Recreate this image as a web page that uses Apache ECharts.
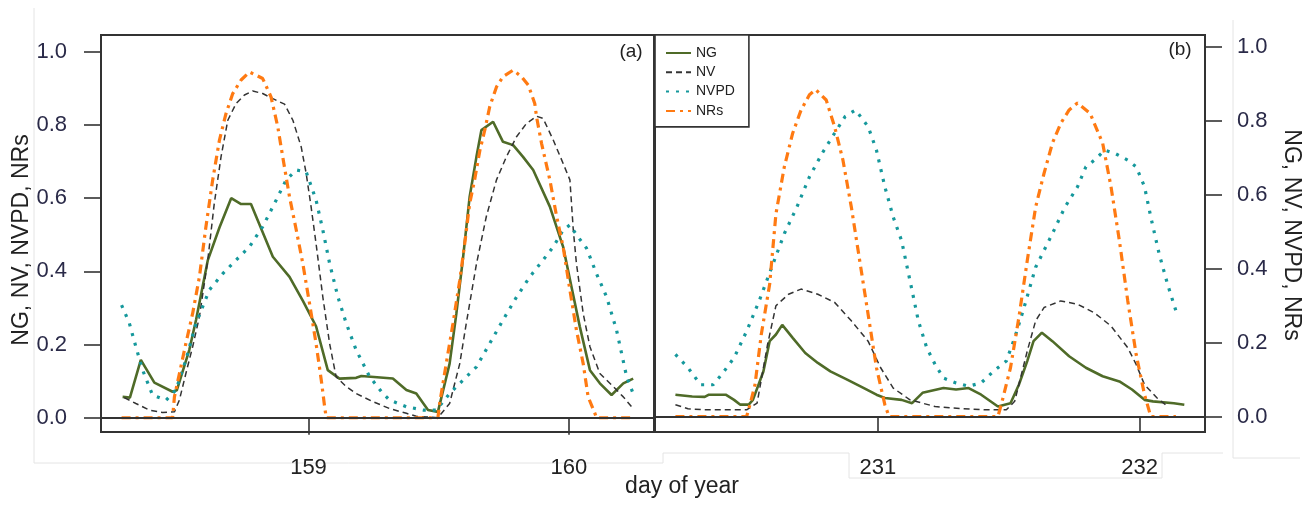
<!DOCTYPE html>
<html>
<head>
<meta charset="utf-8">
<script src="https://cdn.jsdelivr.net/npm/echarts@6/dist/echarts.min.js"></script>
<style>html,body{margin:0;padding:0;background:#fff}#c{width:1310px;height:506px}</style>
</head>
<body>
<div id="c"></div>
<script>
// ---------- data (day of year, normalised value) ----------
const SERIES_NAMES = ['NG', 'NV', 'NVPD', 'NRs'];
const X_TICKS_A = [159, 160];
const X_TICKS_B = [231, 232];
const Y_TICKS = [0, 0.2, 0.4, 0.6, 0.8, 1.0];

const NG_A = [[158.286,0.057],[158.314,0.055],[158.356,0.158],[158.408,0.096],[158.478,0.071],[158.494,0.075],[158.542,0.185],[158.568,0.267],[158.613,0.43],[158.658,0.52],[158.703,0.60],[158.741,0.584],[158.779,0.584],[158.863,0.44],[158.927,0.385],[158.978,0.32],[159.029,0.25],[159.074,0.13],[159.119,0.107],[159.183,0.109],[159.203,0.114],[159.324,0.107],[159.376,0.076],[159.414,0.066],[159.459,0.021],[159.497,0.016],[159.542,0.148],[159.568,0.285],[159.594,0.44],[159.619,0.604],[159.645,0.713],[159.664,0.786],[159.709,0.809],[159.747,0.754],[159.786,0.745],[159.824,0.713],[159.863,0.677],[159.927,0.577],[159.978,0.467],[160.010,0.358],[160.042,0.249],[160.081,0.13],[160.119,0.094],[160.164,0.062],[160.209,0.094],[160.247,0.107]];
const NV_A = [[158.292,0.055],[158.337,0.039],[158.388,0.021],[158.440,0.014],[158.485,0.016],[158.504,0.048],[158.529,0.121],[158.555,0.194],[158.581,0.276],[158.613,0.43],[158.638,0.585],[158.664,0.713],[158.690,0.813],[158.722,0.859],[158.754,0.882],[158.786,0.893],[158.824,0.886],[158.863,0.872],[158.908,0.857],[158.940,0.813],[158.972,0.74],[158.991,0.668],[159.010,0.576],[159.029,0.476],[159.055,0.33],[159.081,0.203],[159.106,0.112],[159.145,0.085],[159.183,0.066],[159.247,0.044],[159.312,0.025],[159.376,0.012],[159.414,0.004],[159.497,0.0],[159.542,0.039],[159.581,0.148],[159.606,0.258],[159.645,0.42],[159.683,0.55],[159.722,0.65],[159.760,0.713],[159.799,0.768],[159.837,0.804],[159.876,0.824],[159.901,0.818],[159.940,0.759],[159.978,0.695],[160.004,0.65],[160.017,0.513],[160.029,0.422],[160.055,0.285],[160.081,0.194],[160.119,0.121],[160.171,0.085],[160.209,0.057],[160.247,0.025]];
const NVPD_A = [[158.282,0.308],[158.312,0.258],[158.337,0.194],[158.363,0.13],[158.401,0.062],[158.453,0.048],[158.491,0.076],[158.529,0.158],[158.568,0.258],[158.619,0.349],[158.671,0.394],[158.722,0.431],[158.773,0.467],[158.824,0.522],[158.876,0.595],[158.914,0.65],[158.953,0.677],[158.991,0.672],[159.029,0.595],[159.055,0.513],[159.081,0.422],[159.113,0.33],[159.145,0.258],[159.183,0.185],[159.235,0.112],[159.286,0.066],[159.312,0.048],[159.376,0.03],[159.440,0.021],[159.491,0.021],[159.542,0.066],[159.594,0.103],[159.645,0.139],[159.696,0.203],[159.747,0.267],[159.799,0.33],[159.850,0.385],[159.901,0.431],[159.940,0.467],[159.978,0.513],[160.004,0.527],[160.029,0.5],[160.068,0.463],[160.106,0.394],[160.145,0.33],[160.183,0.24],[160.222,0.112],[160.247,0.066]];
const NRS_A = [[158.282,0],[158.478,0],[158.485,0.057],[158.504,0.12],[158.529,0.203],[158.555,0.285],[158.581,0.385],[158.606,0.522],[158.632,0.65],[158.658,0.759],[158.683,0.831],[158.709,0.886],[158.741,0.923],[158.773,0.945],[158.799,0.936],[158.824,0.927],[158.856,0.877],[158.882,0.795],[158.901,0.713],[158.927,0.604],[158.953,0.513],[158.978,0.422],[159.004,0.312],[159.029,0.203],[159.049,0.103],[159.062,0.03],[159.068,0],[159.497,0],[159.504,0.04],[159.529,0.148],[159.555,0.258],[159.581,0.376],[159.600,0.476],[159.619,0.585],[159.638,0.65],[159.658,0.73],[159.677,0.786],[159.696,0.85],[159.722,0.904],[159.747,0.932],[159.786,0.95],[159.818,0.932],[159.844,0.909],[159.869,0.859],[159.876,0.822],[159.895,0.75],[159.927,0.65],[159.953,0.55],[159.978,0.467],[160.004,0.349],[160.029,0.24],[160.055,0.148],[160.074,0.057],[160.100,0.012],[160.106,0],[160.247,0]];

const NG_B = [[230.227,0.059],[230.291,0.054],[230.339,0.053],[230.355,0.059],[230.419,0.059],[230.451,0.045],[230.475,0.032],[230.507,0.032],[230.523,0.045],[230.563,0.122],[230.587,0.204],[230.611,0.222],[230.635,0.248],[230.675,0.213],[230.723,0.172],[230.771,0.145],[230.819,0.122],[230.883,0.1],[230.947,0.077],[230.995,0.059],[231.027,0.05],[231.091,0.045],[231.131,0.036],[231.171,0.064],[231.251,0.077],[231.299,0.073],[231.347,0.077],[231.395,0.059],[231.459,0.027],[231.507,0.036],[231.539,0.086],[231.571,0.15],[231.595,0.204],[231.627,0.227],[231.667,0.204],[231.731,0.163],[231.795,0.132],[231.859,0.109],[231.923,0.095],[231.971,0.073],[232.019,0.045],[232.051,0.041],[232.131,0.036],[232.171,0.032]];
const NV_B = [[230.227,0.032],[230.275,0.021],[230.339,0.018],[230.499,0.018],[230.539,0.036],[230.579,0.195],[230.611,0.3],[230.659,0.331],[230.707,0.345],[230.771,0.331],[230.835,0.309],[230.899,0.259],[230.963,0.204],[231.011,0.132],[231.059,0.077],[231.123,0.045],[231.219,0.027],[231.283,0.023],[231.411,0.018],[231.491,0.018],[231.523,0.041],[231.571,0.177],[231.603,0.259],[231.635,0.295],[231.699,0.313],[231.763,0.304],[231.827,0.281],[231.891,0.245],[231.955,0.186],[231.987,0.141],[232.019,0.086],[232.067,0.05],[232.099,0.032]];
const NVPD_B = [[230.227,0.168],[230.275,0.132],[230.323,0.086],[230.371,0.086],[230.403,0.113],[230.451,0.159],[230.499,0.231],[230.547,0.313],[230.595,0.404],[230.643,0.495],[230.691,0.567],[230.739,0.649],[230.787,0.712],[230.835,0.767],[230.875,0.812],[230.915,0.83],[230.963,0.785],[230.995,0.721],[231.027,0.622],[231.059,0.54],[231.091,0.476],[231.123,0.368],[231.155,0.259],[231.187,0.186],[231.219,0.141],[231.251,0.104],[231.299,0.091],[231.347,0.082],[231.395,0.091],[231.443,0.123],[231.491,0.15],[231.523,0.213],[231.555,0.286],[231.603,0.404],[231.667,0.495],[231.715,0.567],[231.763,0.622],[231.795,0.676],[231.827,0.694],[231.867,0.721],[231.907,0.712],[231.955,0.694],[231.987,0.676],[232.019,0.622],[232.043,0.54],[232.075,0.44],[232.107,0.358],[232.139,0.286]];
const NRS_B = [[230.227,0],[230.499,0],[230.515,0.041],[230.531,0.086],[230.555,0.222],[230.587,0.358],[230.611,0.549],[230.643,0.676],[230.675,0.767],[230.707,0.83],[230.739,0.871],[230.763,0.885],[230.803,0.857],[230.835,0.785],[230.867,0.694],[230.899,0.567],[230.931,0.422],[230.963,0.277],[230.995,0.132],[231.027,0.032],[231.043,0],[231.459,0],[231.475,0.041],[231.507,0.132],[231.539,0.268],[231.571,0.422],[231.603,0.567],[231.635,0.658],[231.667,0.74],[231.699,0.794],[231.731,0.83],[231.763,0.849],[231.811,0.821],[231.859,0.74],[231.891,0.622],[231.923,0.476],[231.955,0.313],[231.987,0.168],[232.019,0.059],[232.043,0],[232.139,0]];

// ---------- styling ----------
const FONT = "'Liberation Sans Narrow','Arial Narrow','Liberation Sans',Arial,sans-serif";
const TICK_COLOR = '#2a2a48';
const FRAME = '#333333';
const STYLES = {
  NG:   { color: '#4f6b28', width: 2.6, type: 'solid' },
  NV:   { color: '#333333', width: 1.5, type: [6, 4] },
  NVPD: { color: '#15989c', width: 3.2, type: [3, 7] },
  NRs:  { color: '#ff7a12', width: 3.2, type: [9, 5, 3, 5] }
};

function yAxisDef(grid, pos, min, max, margin) {
  return {
    gridIndex: grid, type: 'value', position: pos, min: min, max: max,
    axisLine: { show: false }, splitLine: { show: false },
    axisTick: { show: true, length: 17, customValues: Y_TICKS, lineStyle: { color: FRAME, width: 1.6 } },
    axisLabel: { customValues: Y_TICKS, margin: margin, fontSize: 22, color: TICK_COLOR, fontFamily: FONT,
                 formatter: v => v.toFixed(1) }
  };
}
function xAxisDef(grid, min, max, ticks, tickLen) {
  return {
    gridIndex: grid, type: 'value', min: min, max: max,
    axisLine: { show: false }, splitLine: { show: false },
    axisTick: { show: true, length: tickLen, customValues: ticks, lineStyle: { color: FRAME, width: 1.6 } },
    axisLabel: { customValues: ticks, margin: 25, fontSize: 22, color: '#222', fontFamily: FONT,
                 formatter: v => String(Math.round(v)) }
  };
}

function mk(name, data, idx, withZero) {
  const s = STYLES[name];
  const o = {
    name: name, type: 'line', data: data, xAxisIndex: idx, yAxisIndex: idx,
    showSymbol: false, symbol: 'none', smooth: false, animation: false,
    lineStyle: { color: s.color, width: s.width, type: s.type },
    itemStyle: { color: s.color, opacity: 0 }, z: 3
  };
  if (withZero) {
    o.markLine = { silent: true, symbol: ['none', 'none'], label: { show: false },
      lineStyle: { color: FRAME, width: 2, type: 'solid', opacity: 1 }, data: [{ yAxis: 0 }], animation: false };
  }
  return o;
}

const faint = { stroke: '#e4e4e4', lineWidth: 1 };
const option = {
  backgroundColor: '#ffffff',
  animation: false,
  grid: [
    { left: 101, top: 35, width: 553, height: 397, show: true, borderColor: FRAME, borderWidth: 2, backgroundColor: 'transparent' },
    { left: 655, top: 35, width: 550, height: 397, show: true, borderColor: FRAME, borderWidth: 2, backgroundColor: 'transparent' }
  ],
  xAxis: [ xAxisDef(0, 158.203, 160.327, X_TICKS_A, 17), xAxisDef(1, 230.149, 232.25, X_TICKS_B, 15) ],
  yAxis: [ yAxisDef(0, 'left', -0.039, 1.046, 34), yAxisDef(1, 'right', -0.042, 1.033, 32) ],
  legend: {
    left: 655, top: 35, orient: 'vertical', backgroundColor: '#fff',
    borderColor: FRAME, borderWidth: 1.6, borderRadius: 0,
    padding: [11, 14, 9, 10], itemWidth: 25, itemHeight: 14, itemGap: 5.3,
    itemStyle: { opacity: 0 },
    textStyle: { fontSize: 14, color: '#222', fontFamily: FONT },
    data: SERIES_NAMES
  },
  series: [
    mk('NG', NG_A, 0, true), mk('NV', NV_A, 0), mk('NVPD', NVPD_A, 0), mk('NRs', NRS_A, 0),
    mk('NG', NG_B, 1, true), mk('NV', NV_B, 1), mk('NVPD', NVPD_B, 1), mk('NRs', NRS_B, 1)
  ],
  graphic: [
    { type: 'polyline', silent: true, z: -1, shape: { points: [[34, 8], [34, 463], [663, 463], [663, 453], [849, 453], [849, 478], [1162, 478], [1162, 453], [1223, 453]] }, style: faint },
    { type: 'polyline', silent: true, z: -1, shape: { points: [[1233, 20], [1233, 458], [1300, 458]] }, style: faint },
    { type: 'text', x: 631, y: 52, style: { text: '(a)', fontSize: 19, fill: '#222', fontFamily: FONT, align: 'center', verticalAlign: 'middle' } },
    { type: 'text', x: 1180, y: 50, style: { text: '(b)', fontSize: 19, fill: '#222', fontFamily: FONT, align: 'center', verticalAlign: 'middle' } },
    { type: 'text', x: 22, y: 240, rotation: Math.PI / 2, style: { text: 'NG, NV, NVPD, NRs', fontSize: 23, fill: '#222', fontFamily: FONT, align: 'center', verticalAlign: 'middle' } },
    { type: 'text', x: 1291, y: 235, rotation: -Math.PI / 2, style: { text: 'NG, NV, NVPD, NRs', fontSize: 23, fill: '#222', fontFamily: FONT, align: 'center', verticalAlign: 'middle' } },
    { type: 'text', x: 682, y: 487, style: { text: 'day of year', fontSize: 23, fill: '#222', fontFamily: FONT, align: 'center', verticalAlign: 'middle' } }
  ]
};

const chart = echarts.init(document.getElementById('c'), null, { renderer: 'canvas' });
chart.setOption(option);
</script>
</body>
</html>
